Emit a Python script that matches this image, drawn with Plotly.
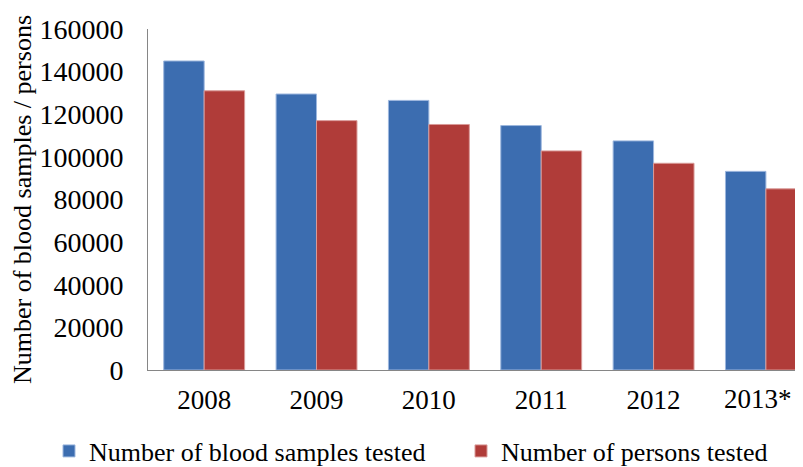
import plotly.graph_objects as go

years = ["2008", "2009", "2010", "2011", "2012", "2013*"]
samples = [145000, 129500, 126500, 114700, 107500, 93200]
persons = [131000, 117000, 115200, 102800, 97000, 85000]

FONT = "Liberation Serif, Times New Roman, serif"

# the last label is drawn as an annotation, nudged left so it fits the window
ticktext = years[:-1] + [""]

# page body has an 8px default margin; figure is sized to fill the rest
W, H = 795, 459

fig = go.Figure()
fig.add_trace(go.Bar(
    x=years, y=samples, name="Number of blood samples tested", legend="legend",
    marker=dict(color="#3C6DB0", line=dict(color="#9DB7DE", width=1)),
))
fig.add_trace(go.Bar(
    x=years, y=persons, name="Number of persons tested", legend="legend2",
    marker=dict(color="#B03C39", line=dict(color="#D99A98", width=1)),
))

leg_common = dict(orientation="h", xref="container", yref="container",
                  xanchor="left", y=16 / H, yanchor="middle",
                  font=dict(size=26), itemwidth=30, bgcolor="rgba(0,0,0,0)")

fig.update_layout(
    width=W, height=H,
    margin=dict(l=140, r=0, t=21, b=97, autoexpand=False),
    paper_bgcolor="white", plot_bgcolor="white",
    barmode="group", bargap=0.28, bargroupgap=0,
    font=dict(family=FONT, size=26, color="black"),
    showlegend=True,
    legend=dict(x=41 / W, **leg_common),
    legend2=dict(x=453 / W, **leg_common),
)
fig.update_xaxes(
    range=[-0.5, 5.33], showline=True, linecolor="#868686", linewidth=1,
    ticks="outside", ticklen=6, tickcolor="rgba(0,0,0,0)",
    tickvals=years, ticktext=ticktext,
    tickfont=dict(size=27), showgrid=False, automargin=False,
)
fig.update_yaxes(
    range=[0, 160000], dtick=20000, tickformat="d", showline=True,
    linecolor="#868686", linewidth=1,
    ticks="outside", ticklen=18, tickcolor="rgba(0,0,0,0)",
    showgrid=False, zeroline=False, tickfont=dict(size=28), automargin=False,
    title=dict(text="Number of blood samples / persons", font=dict(size=26), standoff=8),
)
fig.add_annotation(
    x=years[-1], y=0, xref="x", yref="y", text=years[-1], showarrow=False,
    xanchor="center", yanchor="middle", xshift=-8, yshift=-29,
    font=dict(size=27, family=FONT, color="black"),
)

fig.write_html("out.html")
